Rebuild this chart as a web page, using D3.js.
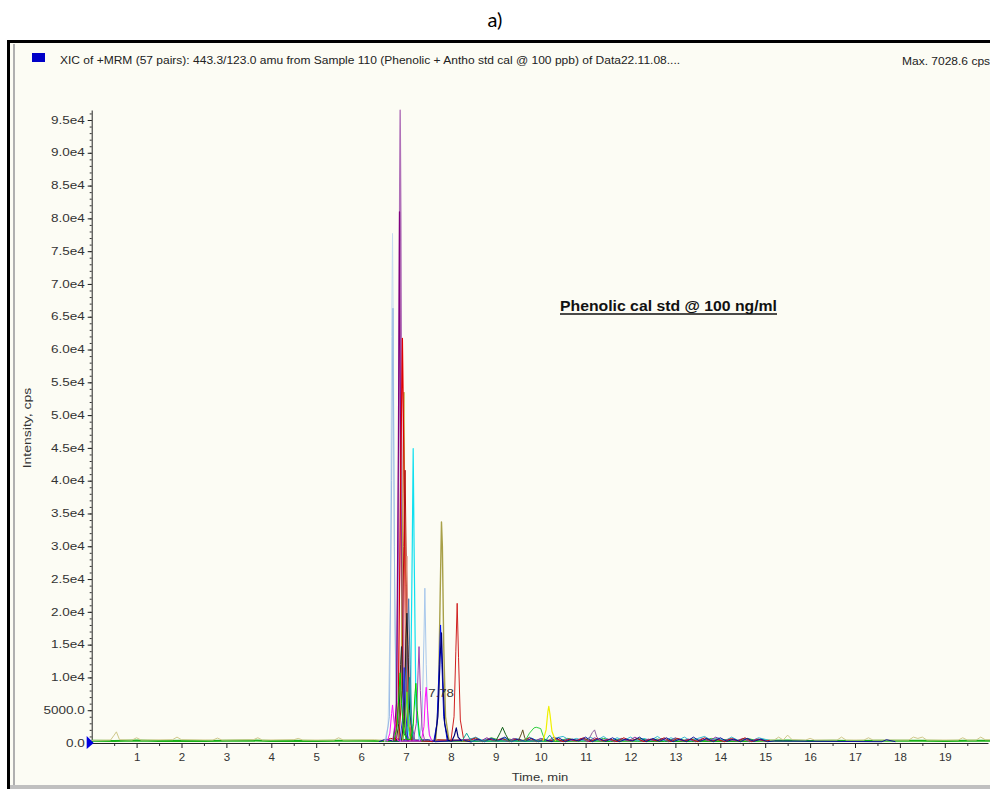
<!DOCTYPE html>
<html>
<head>
<meta charset="utf-8">
<script src="https://cdn.jsdelivr.net/npm/d3@7"></script>
<style>
  body { margin: 0; background: #fff; }
  svg { display: block; }
</style>
</head>
<body>
<div id="chart"></div>
<script>
// ===================================
// DATA (retention time in min, intensity in cps)
// ===================================

const timeTicks = [1, 2, 3, 4, 5, 6, 7, 8, 9, 10, 11, 12, 13, 14, 15, 16, 17, 18, 19];
const intensityTicks = [0, 5000, 10000, 15000, 20000, 25000, 30000, 35000, 40000, 45000,
    50000, 55000, 60000, 65000, 70000, 75000, 80000, 85000, 90000, 95000];

const headerText = "XIC of +MRM (57 pairs): 443.3/123.0 amu from Sample 110 (Phenolic + Antho std cal @ 100 ppb) of Data22.11.08....";
const maxText = "Max. 7028.6 cps";
const noteText = "Phenolic cal std @ 100 ng/ml";
const peakLabel = { time: 7.78, text: "7.78" };

// baseline traces
const greenBase = [[0,350],[0.5,300],[1,380],[1.5,320],[2,360],[2.5,300],[3,340],[3.5,380],[4,320],[4.5,350],
    [5,300],[5.5,360],[6,330],[6.5,300],[7,350],[7.5,320],[8,380],[8.5,300],[9,360],[9.5,330],[10,350],
    [10.5,300],[11,370],[11.5,320],[12,340],[12.5,300],[13,360],[13.5,320],[14,350],[14.5,300],[15,340],
    [15.5,380],[16,320],[16.5,350],[17,300],[17.5,360],[18,330],[18.5,350],[19,300],[19.5,360],[20,330],[20.3,340]];
const khakiBase = [[0,400],[0.42,450],[0.5,1200],[0.55,1700],[0.62,500],[0.9,450],[1.0,800],[1.1,450],[1.8,500],
    [1.9,900],[2.0,500],[2.7,450],[2.8,750],[2.9,450],[3.6,500],[3.7,800],[3.8,450],[4.5,500],[4.6,700],[4.7,450],
    [5.4,450],[5.5,800],[5.6,450],[6.3,500],[6.4,450],[15.2,450],[15.3,900],[15.4,450],[15.5,1200],[15.6,500],
    [15.9,450],[16.0,700],[16.1,450],[16.6,450],[16.7,900],[16.8,450],[17.2,450],[17.3,800],[17.4,450],[18.2,450],
    [18.3,900],[18.4,700],[18.5,900],[18.6,450],[19.3,450],[19.4,800],[19.5,450],[19.7,450],[19.8,900],[19.9,500],[20.3,450]];
const navyNoise = [[6.4,200],[6.55,600],[6.7,300],[7.5,500],[7.65,200],[8.3,400],[8.45,150],[8.6,600],[8.75,200],
    [8.9,700],[9.05,300],[9.2,900],[9.35,200],[9.5,600],[9.65,250],[9.8,700],[9.95,200],[10.1,500],[10.25,200],
    [10.4,800],[10.55,200],[10.7,600],[10.85,300],[11.0,900],[11.15,200],[11.3,700],[11.45,250],[11.6,800],
    [11.75,200],[11.9,600],[12.05,300],[12.2,900],[12.35,200],[12.5,700],[12.65,250],[12.8,800],[12.95,200],
    [13.1,600],[13.25,200],[13.4,900],[13.55,250],[13.7,700],[13.85,200],[14.0,800],[14.15,250],[14.3,600],
    [14.45,200],[14.6,700],[14.75,250],[14.9,600],[15.05,200],[15.2,300],[17.6,200],[17.7,500],[17.9,200]];
const redNoise = [[6.5,300],[6.65,700],[7.6,200],[7.7,500],[8.4,300],[8.55,800],[8.7,200],[8.85,600],[9.0,300],
    [9.15,700],[9.3,200],[9.45,600],[9.6,300],[9.75,800],[9.9,200],[10.05,500],[10.2,300],[10.35,700],[10.5,200],
    [10.65,600],[10.8,300],[10.95,800],[11.1,200],[11.25,700],[11.4,300],[11.55,600],[11.7,200],[11.85,800],
    [12.0,300],[12.15,700],[12.3,200],[12.45,600],[12.6,300],[12.75,800],[12.9,200],[13.05,700],[13.2,300],
    [13.35,600],[13.5,200],[13.65,800],[13.8,300],[13.95,500],[14.1,200],[14.25,700],[14.4,300],[14.55,800],
    [14.7,200],[14.85,600],[15.0,300],[15.1,400]];
const purpleNoise = [[6.6,400],[7.6,300],[8.5,600],[8.65,250],[8.8,800],[8.95,300],[9.1,600],[9.25,200],[9.4,700],
    [9.55,300],[9.7,500],[9.85,250],[10.0,700],[10.15,300],[10.3,900],[10.45,200],[10.6,600],[10.75,300],
    [10.9,700],[11.05,200],[11.2,800],[11.35,300],[11.5,600],[11.65,200],[11.8,700],[11.95,300],[12.1,900],
    [12.25,250],[12.4,600],[12.55,300],[12.7,700],[12.85,200],[13.0,800],[13.15,300],[13.3,600],[13.45,200],
    [13.6,700],[13.75,300],[13.9,900],[14.05,250],[14.2,600],[14.35,300],[14.5,700],[14.65,200],[14.8,600],[15.0,300]];
const cyanNoise = [[8.4,500],[8.55,900],[8.7,400],[8.85,700],[9.0,300],[9.15,800],[9.3,400],[9.45,700],[9.6,300],
    [9.75,900],[9.9,400],[10.05,700],[10.2,300],[10.35,800],[10.5,1000],[10.65,400],[10.8,700],[10.95,300],
    [11.1,900],[11.25,400],[11.4,1000],[11.55,300],[11.7,800],[11.85,400],[12.0,900],[12.15,300],[12.3,700],
    [12.45,400],[12.6,1000],[12.75,300],[12.9,800],[13.05,400],[13.2,900],[13.35,300],[13.5,700],[13.65,1000],
    [13.8,400],[13.95,800],[14.1,300],[14.25,900],[14.4,400],[14.55,700],[14.7,300],[14.85,800],[15.1,400]];
const greenNoise = [[8.3,400],[8.5,700],[8.7,300],[8.9,800],[9.1,400],[9.3,600],[9.5,300],[10.4,300],[10.6,700],
    [10.8,400],[11.0,600],[11.2,300],[11.4,700],[11.6,400],[11.8,600],[12.0,300],[12.2,700],[12.4,400],[12.6,600],
    [12.8,300],[13.0,700],[13.2,400],[13.4,600],[13.6,300],[13.8,700],[14.0,400],[14.2,600],[14.4,300],[14.6,700],
    [14.8,400],[15.0,500]];

// main cluster of peaks
const paleBluePeak = [[6.52,200],[6.60,2500],[6.65,20000],[6.68,62000],[6.70,77700],[6.72,60000],[6.75,18000],[6.80,3000],[6.90,300]];
const skyBluePeak = [[6.55,200],[6.63,4000],[6.68,40000],[6.71,66300],[6.74,30000],[6.78,5000],[6.88,200]];
const mauvePeak = [[6.70,300],[6.78,3000],[6.83,30000],[6.86,85000],[6.87,96500],[6.885,80000],[6.91,35000],[6.95,8000],[7.02,1200],[7.10,300]];
const darkPurplePeak = [[6.72,300],[6.79,6000],[6.83,45000],[6.855,81000],[6.88,42000],[6.92,9000],[6.98,1500],[7.05,200]];
const redPeak = [[6.76,300],[6.83,6000],[6.88,40000],[6.92,61700],[6.95,45000],[6.99,15000],[7.04,3000],[7.12,400]];
const darkRedPeak = [[6.84,300],[6.91,8000],[6.95,30000],[6.98,41600],[7.01,25000],[7.05,6000],[7.13,400]];
const olivePeak = [[6.82,300],[6.89,9000],[6.93,38000],[6.955,53500],[6.98,30000],[7.02,7000],[7.10,400]];
const cyanPeak = [[7.03,300],[7.10,6000],[7.14,30000],[7.16,44900],[7.18,30000],[7.22,6000],[7.30,300]];
const salmonPeak = [[6.90,300],[6.96,6000],[7.00,24000],[7.02,28500],[7.05,15000],[7.09,3000],[7.16,300]];
const steelBluePeak = [[6.93,300],[6.99,5000],[7.04,18000],[7.06,22000],[7.09,12000],[7.13,3000],[7.20,300]];
const blackPeak = [[6.90,300],[6.96,4000],[7.00,16000],[7.02,19800],[7.05,13000],[7.08,5000],[7.16,300]];
const blackPeak2 = [[6.78,300],[6.84,3000],[6.88,12000],[6.90,14700],[6.93,8000],[6.98,1500],[7.04,300]];
const lightBluePeak = [[7.30,300],[7.36,4000],[7.40,16000],[7.42,23600],[7.45,12000],[7.49,2500],[7.56,300]];
const violetPeak = [[7.16,300],[7.23,3000],[7.27,11000],[7.29,14700],[7.32,8000],[7.36,2000],[7.42,300]];
const magentaPeaks = [[6.58,200],[6.64,1500],[6.68,4500],[6.70,5800],[6.73,3500],[6.78,800],[6.84,300],
    [7.34,300],[7.40,2500],[7.43,7000],[7.45,8500],[7.48,5000],[7.52,1200],[7.58,300]];
const greenPeaks = [[6.73,300],[6.80,2500],[6.85,8500],[6.87,10700],[6.90,6000],[6.95,1500],[7.02,600],
    [7.10,500],[7.16,2500],[7.20,7500],[7.22,9100],[7.25,5000],[7.30,1200],[7.36,300]];
const limePeak = [[6.92,300],[6.98,2500],[7.02,7800],[7.05,3000],[7.10,600]];
const royalBluePeak = [[6.86,300],[6.92,3500],[6.96,11500],[6.99,5000],[7.04,600]];
const tealClusterPeak = [[6.98,300],[7.04,3000],[7.08,10000],[7.11,4000],[7.16,500]];
const bluePeak = [[7.62,300],[7.69,3000],[7.74,12000],[7.77,18000],[7.80,12000],[7.84,4000],[7.92,300]];
const navyPeaks = [[7.64,300],[7.71,4000],[7.76,13000],[7.79,16800],[7.82,10000],[7.86,3000],[7.94,400],
    [8.02,300],[8.08,1200],[8.12,2300],[8.16,900],[8.24,300]];
const olive2Peak = [[7.66,300],[7.72,6000],[7.76,22000],[7.79,33700],[7.81,30000],[7.84,15000],[7.88,4000],[7.96,300]];
const red2Peak = [[8.00,300],[8.07,4000],[8.11,14000],[8.14,21300],[8.17,13000],[8.21,3500],[8.29,300]];

// small late peaks
const tealPeaks = [[8.25,300],[8.35,1500],[8.45,300],[10.1,300],[10.2,1200],[10.3,300]];
const darkGreenPeak = [[9.0,300],[9.1,1600],[9.15,2400],[9.22,1300],[9.3,300]];
const brownPeak = [[9.5,300],[9.57,1400],[9.6,2000],[9.64,900],[9.68,300]];
const limeBroadPeak = [[9.65,300],[9.75,1500],[9.85,2300],[9.9,2400],[10.0,2200],[10.05,1200],[10.1,400]];
const yellowPeak = [[10.05,300],[10.12,2000],[10.16,4800],[10.18,5600],[10.21,4200],[10.25,1800],[10.33,300]];
const plumPeak = [[11.05,300],[11.15,1600],[11.2,2000],[11.25,900],[11.35,300]];

// ===================================
// TRACE COLOURS
// ===================================
const traces = [
    { data: greenBase, color: "#18b018", w: 2 },
    { data: khakiBase, color: "#cfc88a", w: 1 },
    { data: greenNoise, color: "#20b030", w: 1 },
    { data: cyanNoise, color: "#30b8d0", w: 1 },
    { data: purpleNoise, color: "#9030a0", w: 1 },
    { data: redNoise, color: "#c01010", w: 1 },
    { data: navyNoise, color: "#1010a0", w: 1 },
    { data: paleBluePeak, color: "#c4dcf0", w: 1 },
    { data: skyBluePeak, color: "#98b8e4", w: 1 },
    { data: mauvePeak, color: "#b070b8", w: 1.4 },
    { data: darkPurplePeak, color: "#800080", w: 1.2 },
    { data: olivePeak, color: "#b8a840", w: 1 },
    { data: redPeak, color: "#e00000", w: 1.2 },
    { data: darkRedPeak, color: "#b01010", w: 1 },
    { data: salmonPeak, color: "#e08878", w: 1 },
    { data: cyanPeak, color: "#10e0f0", w: 1.2 },
    { data: steelBluePeak, color: "#4a7cb4", w: 1 },
    { data: blackPeak, color: "#202020", w: 1 },
    { data: blackPeak2, color: "#303030", w: 1 },
    { data: royalBluePeak, color: "#2030e0", w: 1 },
    { data: tealClusterPeak, color: "#10a0a0", w: 1 },
    { data: limePeak, color: "#60f020", w: 1 },
    { data: lightBluePeak, color: "#a8c8ec", w: 1 },
    { data: violetPeak, color: "#a040b0", w: 1 },
    { data: magentaPeaks, color: "#ff10ff", w: 1 },
    { data: greenPeaks, color: "#00d000", w: 1 },
    { data: olive2Peak, color: "#a8a048", w: 1.4 },
    { data: bluePeak, color: "#0010f0", w: 1 },
    { data: navyPeaks, color: "#000078", w: 1.2 },
    { data: red2Peak, color: "#d02020", w: 1 },
    { data: tealPeaks, color: "#10a898", w: 1 },
    { data: darkGreenPeak, color: "#106018", w: 1 },
    { data: brownPeak, color: "#605020", w: 1 },
    { data: limeBroadPeak, color: "#30d040", w: 1 },
    { data: yellowPeak, color: "#f0f000", w: 1.2 },
    { data: plumPeak, color: "#9060a0", w: 1 }
];

// ===================================
// SVG + FRAME
// ===================================
const W = 990, H = 789;
const svg = d3.select("#chart").append("svg")
    .attr("width", W)
    .attr("height", H)
    .style("font-family", "'Liberation Sans', Arial, sans-serif");

// stretch small text so it is as wide as the original bitmap font
function widen(sel, k) {
    sel.each(function() {
        const w = this.getComputedTextLength();
        d3.select(this).attr("textLength", w * k).attr("lengthAdjust", "spacingAndGlyphs");
    });
}

svg.append("text")
    .attr("x", 495)
    .attr("y", 27)
    .attr("text-anchor", "middle")
    .attr("font-family", "Lato, 'Open Sans', sans-serif")
    .attr("font-size", "20px")
    .attr("fill", "#000")
    .text("a)");

// window frame
svg.append("rect")
    .attr("x", 8.5).attr("y", 41.5)
    .attr("width", 990).attr("height", 760)
    .attr("fill", "#fcfcf4")
    .attr("stroke", "#000")
    .attr("stroke-width", 3);
svg.append("line")
    .attr("x1", 14).attr("x2", 14).attr("y1", 44).attr("y2", 789)
    .attr("stroke", "#b0b0b0").attr("stroke-width", 2);
svg.append("rect")
    .attr("x", 10).attr("y", 785)
    .attr("width", 980).attr("height", 4)
    .attr("fill", "#c0c0c0");

// header
svg.append("rect")
    .attr("x", 32).attr("y", 53)
    .attr("width", 13).attr("height", 9)
    .attr("fill", "#0000c8");
svg.append("text")
    .attr("x", 60).attr("y", 64)
    .attr("font-size", "10px")
    .attr("fill", "#222")
    .text(headerText)
    .call(widen, 1.2);
svg.append("text")
    .attr("x", 902).attr("y", 65)
    .attr("font-size", "10px")
    .attr("fill", "#222")
    .text(maxText)
    .call(widen, 1.2);

// ===================================
// SCALES
// ===================================
const x = d3.scaleLinear().domain([0, 20]).range([91.7, 989.7]);
const y = d3.scaleLinear().domain([0, 95000]).range([743, 120]);

// ===================================
// AXES
// ===================================
const yAxisScale = d3.scaleLinear().domain([0, y.invert(110)]).range([y(0), 110]);
const xAxisScale = d3.scaleLinear().domain([0, x.invert(988)]).range([x(0), 988]);

// minor ticks
svg.append("g")
    .attr("transform", `translate(${x(0)},0)`)
    .call(d3.axisLeft(yAxisScale).tickValues(d3.range(0, 96001, 1000)).tickSize(2).tickFormat(""))
    .call(g => g.select(".domain").remove())
    .selectAll("line").attr("stroke", "#333");
svg.append("g")
    .attr("transform", `translate(0,${y(0)})`)
    .call(d3.axisBottom(xAxisScale).tickValues(d3.range(0.5, 20, 1)).tickSize(3).tickFormat(""))
    .call(g => g.select(".domain").remove())
    .selectAll("line").attr("stroke", "#333");

const yAxis = svg.append("g")
    .attr("transform", `translate(${x(0)},0)`)
    .call(d3.axisLeft(yAxisScale)
        .tickValues(intensityTicks)
        .tickSize(4)
        .tickPadding(3)
        .tickSizeOuter(0)
        .tickFormat(d => d === 0 ? "0.0" : d === 5000 ? "5000.0" : (d / 1e4).toFixed(1) + "e4"));
yAxis.select(".domain").attr("stroke", "#222");
yAxis.selectAll("line").attr("stroke", "#222");
yAxis.selectAll("text")
    .attr("font-size", "10px")
    .attr("fill", "#333")
    .call(widen, 1.35);

const xAxis = svg.append("g")
    .attr("transform", `translate(0,${y(0)})`)
    .call(d3.axisBottom(xAxisScale)
        .tickValues(timeTicks)
        .tickSize(5)
        .tickPadding(6)
        .tickSizeOuter(0)
        .tickFormat(d3.format("d")));
xAxis.select(".domain").attr("stroke", "#222");
xAxis.selectAll("line").attr("stroke", "#222");
xAxis.selectAll("text")
    .attr("font-size", "10px")
    .attr("fill", "#333")
    .call(widen, 1.15);

// axis titles
svg.append("text")
    .attr("x", 540).attr("y", 781)
    .attr("text-anchor", "middle")
    .attr("font-size", "10px")
    .attr("fill", "#333")
    .text("Time, min")
    .call(widen, 1.3);
svg.append("text")
    .attr("transform", "translate(31,428) rotate(-90)")
    .attr("text-anchor", "middle")
    .attr("font-size", "10px")
    .attr("fill", "#333")
    .text("Intensity, cps")
    .call(widen, 1.4);

// ===================================
// TRACES
// ===================================
const line = d3.line()
    .x(d => x(d[0]))
    .y(d => y(d[1]));

svg.append("g")
    .selectAll("path")
    .data(traces)
    .join("path")
    .attr("d", d => line(d.data))
    .attr("fill", "none")
    .attr("stroke", d => d.color)
    .attr("stroke-width", d => d.w)
    .attr("stroke-linejoin", "round");

// start marker on the baseline
svg.append("path")
    .attr("d", `M${x(0) - 5},${y(0) - 7}L${x(0) + 2},${y(0)}L${x(0) - 5},${y(0) + 6}Z`)
    .attr("fill", "#0000e0");

// peak label
svg.append("text")
    .attr("x", x(peakLabel.time))
    .attr("y", 697)
    .attr("text-anchor", "middle")
    .attr("font-size", "11px")
    .attr("fill", "#333")
    .text(peakLabel.text)
    .call(widen, 1.2);

// annotation
svg.append("text")
    .attr("x", 560).attr("y", 311)
    .attr("font-size", "15px")
    .attr("font-weight", "bold")
    .attr("fill", "#111")
    .text(noteText)
    .attr("textLength", 217)
    .attr("lengthAdjust", "spacingAndGlyphs");
svg.append("line")
    .attr("x1", 560).attr("x2", 777)
    .attr("y1", 314).attr("y2", 314)
    .attr("stroke", "#111")
    .attr("stroke-width", 1.3);
</script>
</body>
</html>
